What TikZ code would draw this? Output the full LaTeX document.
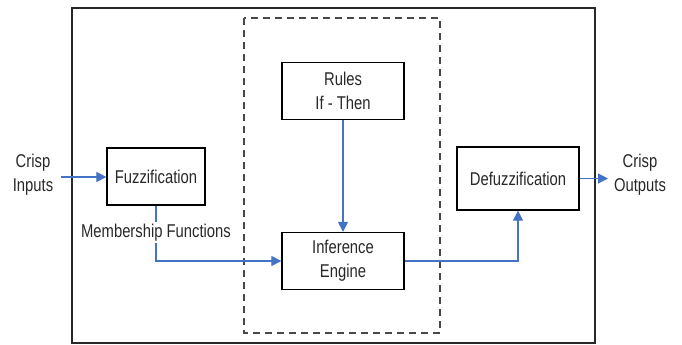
\documentclass[tikz,border=0pt]{standalone}
\usepackage{fontspec}
\setmainfont{Liberation Sans}[FakeStretch=0.8]
\usetikzlibrary{arrows.meta}
\definecolor{flow}{RGB}{68,114,196}
\definecolor{ink}{RGB}{40,40,40}
\tikzset{
  blockbox/.style={draw=black, line width=1.3pt, fill=white, align=center, inner sep=0pt, text=ink,
     font=\fontsize{18.5}{24}\selectfont},
  lbl/.style={align=center, inner sep=0pt, text=ink, font=\fontsize{18.5}{24}\selectfont},
  flowline/.style={draw=flow, line width=1.2pt},
  flowarrow/.style={flowline, -{Triangle[length=10pt,width=10pt]}},
}
\begin{document}
\begin{tikzpicture}[x=1pt,y=-1pt]
\useasboundingbox (0,0) rectangle (682,345);
% outer frame
\draw[draw=ink, line width=1.4pt] (72,8) rectangle (595,343);
% dashed inference region
\draw[draw=ink!85, line width=2pt, dash pattern=on 7pt off 5pt] (244,18) rectangle (440,333);
% blocks
\node[blockbox, minimum width=122pt, minimum height=57pt] (rules) at (343,91) {Rules\\If - Then};
\node[blockbox, minimum width=122pt, minimum height=57pt] (inf) at (343,261) {Inference\\Engine};
\node[blockbox, minimum width=98pt, minimum height=57pt] (fuzz) at (156,176.5) {Fuzzification};
\node[blockbox, minimum width=122pt, minimum height=63pt] (defuzz) at (518,178.5) {Defuzzification};
% labels
\node[lbl] (inputs) at (33,175) {Crisp\\Inputs};
\node[lbl] (outputs) at (640,175) {Crisp\\Outputs};
\node[lbl, minimum height=21pt] (mf) at (156,232.5) {Membership Functions};
\coordinate (instart) at (61,177);
\coordinate (outend) at (608,178.5);
% connectors
\draw[flowarrow] (instart) -- (instart -| fuzz.west);
\draw[flowline] (fuzz.south) -- (mf.north);
\draw[flowarrow] (mf.south) |- (inf.west);
\draw[flowarrow] (rules.south) -- (inf.north);
\draw[flowarrow] (inf.east) -| (defuzz.south);
\draw[flowarrow] (defuzz.east) -- (outend);
\end{tikzpicture}
\end{document}
